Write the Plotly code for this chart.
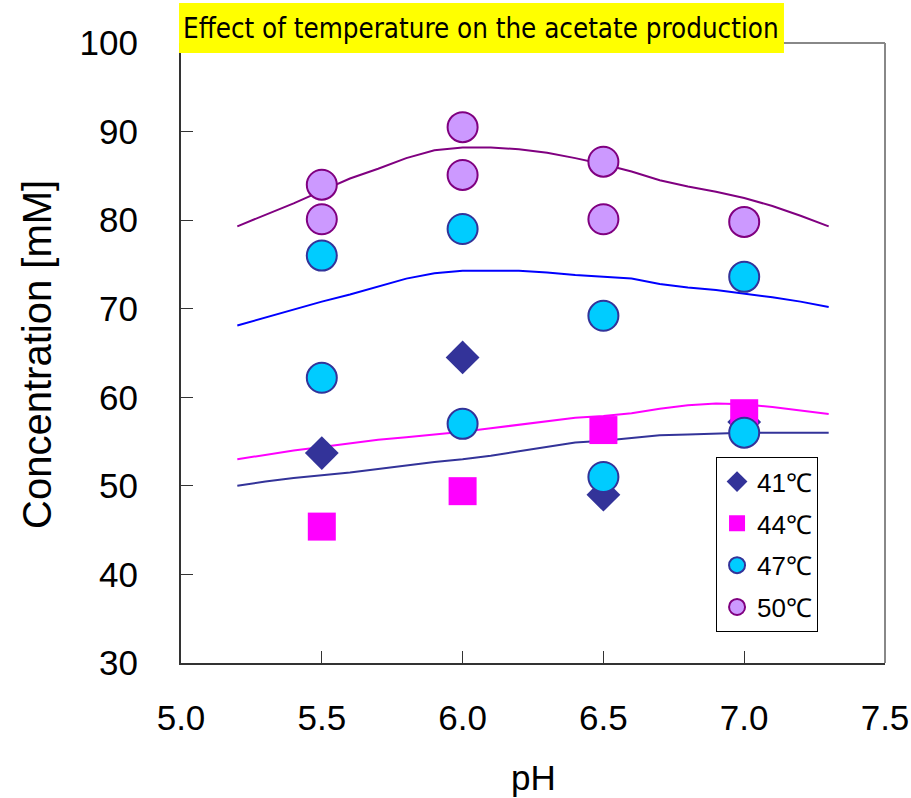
import plotly.graph_objects as go

# measured points (pH vs acetate concentration, mM)
ph_41 = [5.5, 6.0, 6.5, 7.0]
conc_41 = [53.7, 64.5, 49.0, 57.2]

ph_44 = [5.5, 6.0, 6.5, 7.0]
conc_44 = [45.4, 49.4, 56.3, 58.2]

ph_47 = [5.5, 5.5, 6.0, 6.0, 6.5, 6.5, 7.0, 7.0]
conc_47 = [76.0, 62.2, 79.0, 57.0, 69.2, 51.0, 73.6, 56.0]

ph_50 = [5.5, 5.5, 6.0, 6.0, 6.5, 6.5, 7.0]
conc_50 = [84.0, 80.1, 90.5, 85.1, 86.6, 80.1, 79.8]

# fitted curves
ph_fit = [5.2, 5.3, 5.4, 5.5, 5.6, 5.7, 5.8, 5.9, 6.0, 6.1, 6.2,
          6.3, 6.4, 6.5, 6.6, 6.7, 6.8, 6.9, 7.0, 7.1, 7.2, 7.3]
fit_41 = [50.0, 50.5, 50.9, 51.2, 51.5, 51.9, 52.3, 52.7, 53.0, 53.4, 53.9,
          54.4, 54.9, 55.1, 55.4, 55.7, 55.8, 55.9, 56.0, 56.0, 56.0, 56.0]
fit_44 = [53.0, 53.5, 54.0, 54.4, 54.8, 55.2, 55.5, 55.8, 56.1, 56.5, 56.9,
          57.3, 57.7, 57.9, 58.2, 58.7, 59.1, 59.3, 59.2, 58.9, 58.5, 58.1]
fit_47 = [68.1, 69.0, 69.9, 70.8, 71.6, 72.5, 73.4, 74.0, 74.3, 74.3, 74.3,
          74.1, 73.8, 73.6, 73.4, 72.8, 72.4, 72.1, 71.7, 71.3, 70.8, 70.2]
fit_50 = [79.3, 80.6, 81.9, 83.3, 84.7, 85.8, 87.0, 87.9, 88.2, 88.2, 88.0,
          87.6, 87.0, 86.3, 85.5, 84.5, 83.8, 83.2, 82.5, 81.6, 80.5, 79.3]

fig = go.Figure()

# curves go underneath the markers
for y, col in [(fit_41, "#333399"), (fit_44, "#FF00FF"), (fit_47, "#0000FF"), (fit_50, "#800080")]:
    fig.add_trace(go.Scatter(x=ph_fit, y=y, mode="lines", line=dict(color=col, width=2),
                             showlegend=False, hoverinfo="skip"))

fig.add_trace(go.Scatter(x=ph_41, y=conc_41, mode="markers", name="41℃", legendgroup="a",
                         marker=dict(symbol="diamond", size=26, color="#333399")))
fig.add_trace(go.Scatter(x=ph_44, y=conc_44, mode="markers", name="44℃", legendgroup="b",
                         marker=dict(symbol="square", size=28, color="#FF00FF")))
fig.add_trace(go.Scatter(x=ph_47, y=conc_47, mode="markers", name="47℃", legendgroup="c",
                         marker=dict(symbol="circle", size=30, color="#00CCFF",
                                     line=dict(color="#333399", width=2))))
fig.add_trace(go.Scatter(x=ph_50, y=conc_50, mode="markers", name="50℃", legendgroup="d",
                         marker=dict(symbol="circle", size=30, color="#CC99FF",
                                     line=dict(color="#800080", width=2))))

axis_font = dict(family="Liberation Sans, Arial, sans-serif", size=35, color="black")

fig.update_layout(
    width=911, height=798,
    margin=dict(l=181, r=26, t=43, b=135),
    paper_bgcolor="white", plot_bgcolor="white",
    font=axis_font,
    xaxis=dict(range=[5.0, 7.5], dtick=0.5, tickformat=".1f", showgrid=False, zeroline=False,
               showline=True, linecolor="#333333", linewidth=2, automargin=False,
               ticks="inside", ticklen=12, tickcolor="#333333", tickwidth=1,
               ticklabelstandoff=23, tickfont=axis_font),
    yaxis=dict(range=[30, 100], dtick=10, showgrid=False, zeroline=False,
               showline=True, linecolor="#333333", linewidth=2, automargin=False,
               ticks="inside", ticklen=12, tickcolor="#333333", tickwidth=1,
               ticklabelstandoff=34, tickfont=axis_font),
    legend=dict(x=0.76, y=0.332, xanchor="left", yanchor="top",
                bgcolor="white", bordercolor="black", borderwidth=1,
                tracegroupgap=5,
                font=dict(family="Liberation Sans, Arial, sans-serif", size=26, color="black")),
    showlegend=True,
)

# grey frame on top and right
fig.add_shape(type="line", xref="paper", yref="paper", x0=0, x1=1, y0=1, y1=1,
              line=dict(color="#888888", width=2))
fig.add_shape(type="line", xref="paper", yref="paper", x0=1, x1=1, y0=0, y1=1,
              line=dict(color="#888888", width=2))

# yellow title box
fig.add_shape(type="rect", xref="paper", yref="paper", x0=-0.0028, x1=0.8565, y0=0.984, y1=1.0645,
              fillcolor="#FFFF00", line=dict(width=0), layer="above")
fig.add_annotation(text="Effect of temperature on the acetate production", xref="paper", yref="paper",
                   x=0.4268, y=1.0242, xanchor="center", yanchor="middle", showarrow=False,
                   font=dict(family="Liberation Sans Narrow, DejaVu Sans Condensed, Arial Narrow, sans-serif",
                             size=27.5, color="black"))

# axis titles
fig.add_annotation(text="pH", xref="paper", yref="paper", x=0.5, y=-0.184,
                   xanchor="center", yanchor="middle", showarrow=False,
                   font=dict(family="Liberation Sans, Arial, sans-serif", size=35, color="black"))
fig.add_annotation(text="Concentration [mM]", xref="paper", yref="paper", x=-0.2045, y=0.497,
                   xanchor="center", yanchor="middle", showarrow=False, textangle=-90,
                   font=dict(family="Liberation Sans, Arial, sans-serif", size=40, color="black"))

fig.write_html("out.html", config={"displayModeBar": False},
               post_script="document.body.style.margin='0';document.body.style.padding='0';")
